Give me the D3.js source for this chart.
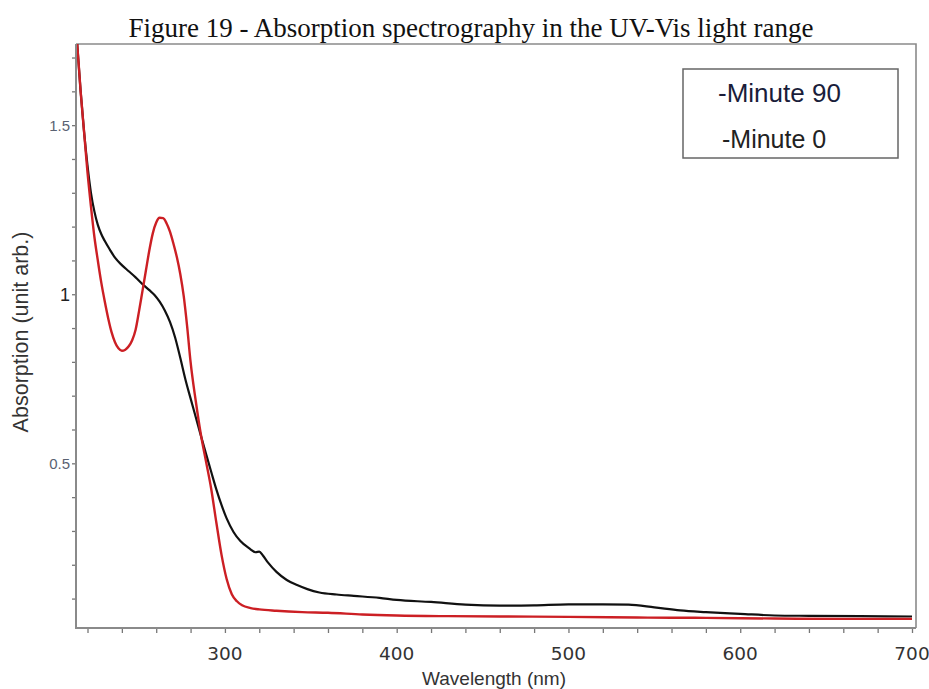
<!DOCTYPE html>
<html>
<head>
<meta charset="utf-8">
<script src="https://cdn.jsdelivr.net/npm/d3@7"></script>
<style>
  html, body { margin: 0; padding: 0; background: #fff; }
  svg { display: block; }
</style>
</head>
<body>
<svg id="chart" width="929" height="689"></svg>
<script>
// ---------- data ----------
const titleText = "Figure 19 - Absorption spectrography in the UV-Vis light range";
const xLabel = "Wavelength (nm)";
const yLabel = "Absorption (unit arb.)";
const seriesNames = ["-Minute 90", "-Minute 0"];

const xTickValues = [300, 400, 500, 600, 700];
const yTickValues = [0.5, 1, 1.5];
const yTickLabels = ["0.5", "1", "1.5"];

// Minute 90 (black)
const wl90 = [214, 216, 218, 220, 222, 224, 226, 228, 230, 233, 236, 240, 244, 248, 252, 256, 259, 262, 265, 268, 271, 274, 277, 280, 283, 286, 289, 292, 295, 298, 301, 305, 309, 314, 318, 320, 322, 325, 330, 336, 342, 348, 355, 365, 375, 390, 400, 420, 440, 460, 480, 500, 520, 535, 550, 565, 580, 600, 620, 640, 670, 700];
const abs90 = [1.74, 1.60, 1.48, 1.38, 1.30, 1.245, 1.205, 1.178, 1.158, 1.132, 1.108, 1.086, 1.068, 1.05, 1.03, 1.012, 0.998, 0.978, 0.952, 0.918, 0.872, 0.812, 0.748, 0.692, 0.637, 0.582, 0.528, 0.475, 0.423, 0.377, 0.337, 0.297, 0.27, 0.249, 0.237, 0.239, 0.228, 0.207, 0.179, 0.155, 0.14, 0.128, 0.118, 0.112, 0.108, 0.102, 0.096, 0.09, 0.082, 0.079, 0.08, 0.083, 0.083, 0.082, 0.074, 0.065, 0.06, 0.055, 0.05, 0.049, 0.048, 0.047];

// Minute 0 (red)
const wl0 = [214, 216, 218, 220, 222, 224, 226, 228, 230, 232, 234, 236, 238, 240, 242, 244, 246, 248, 250, 252, 254, 256, 258, 260, 262, 264, 266, 268, 270, 272, 274, 276, 278, 280, 283, 286, 289, 292, 295, 298, 301, 304, 307, 310, 315, 320, 330, 345, 360, 380, 400, 430, 460, 500, 540, 580, 620, 660, 700];
const abs0 = [1.74, 1.60, 1.48, 1.36, 1.26, 1.17, 1.10, 1.035, 0.98, 0.93, 0.888, 0.858, 0.84, 0.833, 0.836, 0.846, 0.864, 0.895, 0.95, 1.01, 1.07, 1.13, 1.18, 1.212, 1.226, 1.225, 1.21, 1.185, 1.15, 1.11, 1.06, 0.995, 0.905, 0.8, 0.685, 0.585, 0.505, 0.425, 0.325, 0.23, 0.158, 0.113, 0.092, 0.08, 0.072, 0.068, 0.064, 0.06, 0.058, 0.053, 0.05, 0.048, 0.047, 0.046, 0.044, 0.043, 0.041, 0.04, 0.04];

// ---------- layout ----------
const svg = d3.select("#chart");
const L = 76, R = 912, T = 44, B = 628;

const x = d3.scaleLinear().domain([213.3, 700]).range([L, R]);
const y = d3.scaleLinear().domain([0.013, 1.74]).range([B, T]);

// title
svg.append("text")
  .attr("x", 471).attr("y", 37)
  .attr("text-anchor", "middle")
  .style("font-family", "'Liberation Serif', 'Times New Roman', serif")
  .style("font-size", "27px")
  .attr("fill", "#111")
  .text(titleText);

// frame (top & right)
svg.append("path")
  .attr("d", `M${L},${T}H${R + 4}V${B}`)
  .attr("fill", "none").attr("stroke", "#8a8a8a").attr("stroke-width", 1.6);

// clip
svg.append("clipPath").attr("id", "plotclip")
  .append("rect").attr("x", L).attr("y", T).attr("width", R + 2 - L).attr("height", B - T);

// lines
const line = d3.line().x(d => x(d[0])).y(d => y(d[1])).curve(d3.curveMonotoneX);
const d90 = wl90.map((w, i) => [w, abs90[i]]);
const d0 = wl0.map((w, i) => [w, abs0[i]]);

const g = svg.append("g").attr("clip-path", "url(#plotclip)");
g.append("path").datum(d90).attr("d", line)
  .attr("fill", "none").attr("stroke", "#111").attr("stroke-width", 2.2);
g.append("path").datum(d0).attr("d", line)
  .attr("fill", "none").attr("stroke", "#cc1f24").attr("stroke-width", 2.4);

// x axis
const xMinor = d3.range(220, 701, 20);
const xAxisG = svg.append("g").attr("transform", `translate(0,${B})`);
xAxisG.call(d3.axisBottom(x).tickValues(xMinor).tickSize(5).tickFormat(""));
xAxisG.select(".domain").remove();
xAxisG.selectAll(".tick line").attr("stroke", "#777").attr("stroke-width", 1.3);
svg.append("line").attr("x1", L - 1).attr("x2", R + 4).attr("y1", B).attr("y2", B)
  .attr("stroke", "#8a8a8a").attr("stroke-width", 2);
xAxisG.selectAll(".xlab").data(xTickValues).enter().append("text")
  .attr("x", d => x(d)).attr("y", 32)
  .attr("text-anchor", "middle")
  .style("font-family", "'DejaVu Sans', Verdana, sans-serif")
  .style("font-size", "18.5px")
  .attr("fill", "#333")
  .text(d => d);

// y axis
const yMinor = d3.range(1, 18).map(v => v / 10);
const yAxisG = svg.append("g").attr("transform", `translate(${L},0)`);
yAxisG.call(d3.axisLeft(y).tickValues(yMinor).tickSize(4).tickFormat(""));
yAxisG.select(".domain").remove();
yAxisG.selectAll(".tick line").attr("stroke", "#777").attr("stroke-width", 1.3);
svg.append("line").attr("x1", L).attr("x2", L).attr("y1", T).attr("y2", B)
  .attr("stroke", "#8a8a8a").attr("stroke-width", 2);
yAxisG.selectAll(".ylab").data(yTickValues).enter().append("text")
  .attr("x", -6).attr("y", d => y(d))
  .attr("dy", "0.36em")
  .attr("text-anchor", "end")
  .style("font-family", "'Liberation Sans', Arial, sans-serif")
  .style("font-size", (d, i) => yTickLabels[i] === "1" ? "18px" : "15px")
  .attr("fill", (d, i) => yTickLabels[i] === "1" ? "#222" : "#5a6272")
  .text((d, i) => yTickLabels[i]);

// axis labels
svg.append("text")
  .attr("x", 494).attr("y", 685)
  .attr("text-anchor", "middle")
  .style("font-family", "'Liberation Sans', Arial, sans-serif")
  .style("font-size", "19px")
  .attr("fill", "#333")
  .text(xLabel);

svg.append("text")
  .attr("transform", "translate(28,332) rotate(-90)")
  .attr("text-anchor", "middle")
  .style("font-family", "'Liberation Sans', Arial, sans-serif")
  .style("font-size", "21.5px")
  .attr("fill", "#333")
  .text(yLabel);

// legend
svg.append("rect")
  .attr("x", 683).attr("y", 69).attr("width", 215).attr("height", 89)
  .attr("fill", "#fff").attr("stroke", "#666").attr("stroke-width", 1.5);
svg.selectAll(".leg").data(seriesNames).enter().append("text")
  .attr("x", (d, i) => i === 0 ? 718 : 722)
  .attr("y", (d, i) => i === 0 ? 102 : 148)
  .style("font-family", "'Liberation Sans', Arial, sans-serif")
  .style("font-size", (d, i) => i === 0 ? "26px" : "25px")
  .attr("fill", (d, i) => i === 0 ? "#1a1d3a" : "#222")
  .text(d => d);
</script>
</body>
</html>
